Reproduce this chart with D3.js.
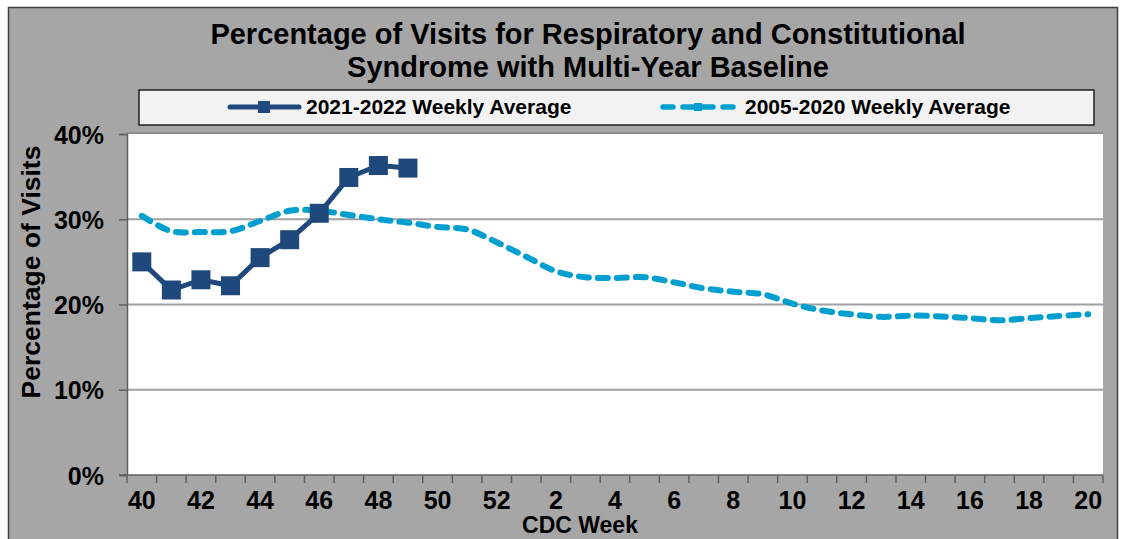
<!DOCTYPE html>
<html>
<head>
<meta charset="utf-8">
<script src="https://cdn.jsdelivr.net/npm/d3@7"></script>
<style>
  body { margin: 0; background: #fff; }
  svg text { font-family: "Liberation Sans", Arial, sans-serif; font-weight: bold; fill: #000; }
</style>
</head>
<body>
<svg id="chart" width="1121" height="539"></svg>
<script>
// CDC weeks on the x axis (season runs week 40 through week 20)
const weeks = [40, 41, 42, 43, 44, 45, 46, 47, 48, 49, 50, 51, 52,
  1, 2, 3, 4, 5, 6, 7, 8, 9, 10, 11, 12, 13, 14, 15, 16, 17, 18, 19, 20];
const weekLabels = [40, 42, 44, 46, 48, 50, 52, 2, 4, 6, 8, 10, 12, 14, 16, 18, 20];

// 2021-2022 season so far (percent of visits)
const current = [25.0, 21.7, 22.9, 22.2, 25.5, 27.6, 30.7, 34.9, 36.3, 36.0];

// 2005-2020 weekly average baseline
const baseline = [30.4, 28.6, 28.5, 28.6, 29.8, 31.0, 31.0, 30.5, 30.0, 29.6,
  29.1, 28.8, 27.3, 25.6, 23.9, 23.2, 23.1, 23.2, 22.6, 21.9, 21.5, 21.2,
  20.1, 19.3, 18.85, 18.55, 18.7, 18.6, 18.4, 18.15, 18.4, 18.65, 18.85];

const yTicks = [0, 10, 20, 30, 40];

const svg = d3.select('#chart');
const plot = { left: 127, right: 1103, top: 134, bottom: 475 };

const blue = '#1f497d';
const cyan = '#009fd0';

// outer frame
svg.append('rect')
  .attr('x', 8.5).attr('y', 7.5)
  .attr('width', 1109).attr('height', 540)
  .attr('fill', '#a6a6a6')
  .attr('stroke', '#404040').attr('stroke-width', 1.5);

// title
const title = svg.append('text')
  .attr('text-anchor', 'middle')
  .style('font-size', '29px');
title.append('tspan').attr('x', 588).attr('y', 44)
  .text('Percentage of Visits for Respiratory and Constitutional');
title.append('tspan').attr('x', 588).attr('y', 77)
  .text('Syndrome with Multi-Year Baseline');

// legend
const lg = svg.append('g');
lg.append('rect')
  .attr('x', 139).attr('y', 90)
  .attr('width', 955).attr('height', 35)
  .attr('fill', '#f2f2f2')
  .attr('stroke', '#202020').attr('stroke-width', 1.5);

lg.append('line')
  .attr('x1', 230).attr('x2', 299).attr('y1', 107).attr('y2', 107)
  .attr('stroke', blue).attr('stroke-width', 5).attr('stroke-linecap', 'round');
lg.append('rect')
  .attr('x', 258).attr('y', 101).attr('width', 12).attr('height', 12)
  .attr('fill', blue);
lg.append('text').attr('x', 306).attr('y', 114)
  .style('font-size', '21px').text('2021-2022 Weekly Average');

lg.append('line')
  .attr('x1', 663).attr('x2', 735).attr('y1', 107).attr('y2', 107)
  .attr('stroke', cyan).attr('stroke-width', 5.5)
  .attr('stroke-linecap', 'round').attr('stroke-dasharray', '10,10');
lg.append('rect')
  .attr('x', 694).attr('y', 103).attr('width', 8).attr('height', 8)
  .attr('fill', cyan);
lg.append('text').attr('x', 745).attr('y', 114)
  .style('font-size', '21px').text('2005-2020 Weekly Average');

// plot background
svg.append('rect')
  .attr('x', plot.left).attr('y', plot.top)
  .attr('width', plot.right - plot.left).attr('height', plot.bottom - plot.top)
  .attr('fill', '#fff');
svg.append('line')
  .attr('x1', plot.left).attr('x2', plot.right)
  .attr('y1', plot.top - 1).attr('y2', plot.top - 1)
  .attr('stroke', '#8c8c8c').attr('stroke-width', 2);

// scales
const x = d3.scaleBand().domain(weeks).range([plot.left, plot.right]);
const y = d3.scaleLinear().domain([0, 40]).range([plot.bottom, plot.top]);
const cx = w => x(w) + x.bandwidth() / 2;

// gridlines
svg.append('g')
  .selectAll('line')
  .data(yTicks.filter(d => d > 0 && d < 40))
  .join('line')
  .attr('x1', plot.left).attr('x2', plot.right)
  .attr('y1', d => y(d)).attr('y2', d => y(d))
  .attr('stroke', '#a0a0a0').attr('stroke-width', 2);

// y axis
const yAxis = svg.append('g')
  .attr('transform', `translate(${plot.left},0)`)
  .call(d3.axisLeft(y).tickValues(yTicks).tickFormat(d => d + '%').tickSize(8).tickPadding(15));
yAxis.select('.domain').attr('stroke', '#606060').attr('stroke-width', 1.5);
yAxis.selectAll('.tick line').attr('stroke', '#606060').attr('stroke-width', 1.5);
yAxis.selectAll('.tick text')
  .style('font-size', '25px').style('font-family', '"Liberation Sans", Arial, sans-serif')
  .attr('dy', '0.36em');

// x axis: ticks on category boundaries, labels on every other week
const xAxis = svg.append('g').attr('transform', `translate(0,${plot.bottom})`);
xAxis.append('line')
  .attr('x1', plot.left - 8).attr('x2', plot.right)
  .attr('stroke', '#606060').attr('stroke-width', 1.5);
xAxis.selectAll('line.tk')
  .data(weeks.map(w => x(w)).concat([plot.right]))
  .join('line').attr('class', 'tk')
  .attr('x1', d => d).attr('x2', d => d)
  .attr('y1', 0).attr('y2', 8)
  .attr('stroke', '#606060').attr('stroke-width', 1.5);
xAxis.selectAll('text')
  .data(weekLabels)
  .join('text')
  .attr('x', d => cx(d)).attr('y', 34)
  .attr('text-anchor', 'middle')
  .style('font-size', '25px')
  .text(d => d);

// axis titles
svg.append('text')
  .attr('transform', 'translate(40,272) rotate(-90)')
  .attr('text-anchor', 'middle')
  .style('font-size', '26.5px')
  .text('Percentage of Visits');
svg.append('text')
  .attr('x', 580).attr('y', 533)
  .attr('text-anchor', 'middle')
  .style('font-size', '23px')
  .text('CDC Week');

// baseline (smoothed, dashed)
const baseLine = d3.line()
  .x((d, i) => cx(weeks[i]))
  .y(d => y(d))
  .curve(d3.curveCatmullRom);
svg.append('path')
  .datum(baseline)
  .attr('d', baseLine)
  .attr('fill', 'none')
  .attr('stroke', cyan).attr('stroke-width', 6)
  .attr('stroke-linecap', 'round')
  .attr('stroke-dasharray', '10,9');

// current season
const curLine = d3.line()
  .x((d, i) => cx(weeks[i]))
  .y(d => y(d));
svg.append('path')
  .datum(current)
  .attr('d', curLine)
  .attr('fill', 'none')
  .attr('stroke', blue).attr('stroke-width', 5)
  .attr('stroke-linejoin', 'round');
svg.append('g')
  .selectAll('rect')
  .data(current)
  .join('rect')
  .attr('x', (d, i) => cx(weeks[i]) - 9.5)
  .attr('y', d => y(d) - 9.5)
  .attr('width', 19).attr('height', 19)
  .attr('fill', blue);
</script>
</body>
</html>
